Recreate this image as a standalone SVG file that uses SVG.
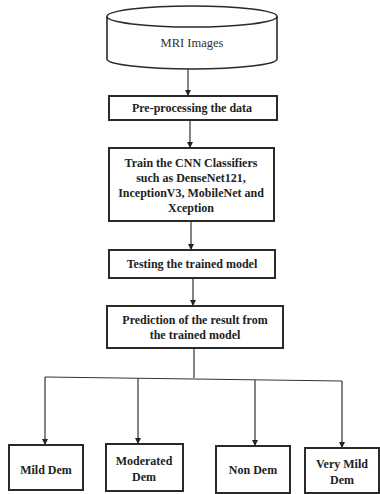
<svg xmlns="http://www.w3.org/2000/svg" width="380" height="494" viewBox="0 0 380 494">
<defs>
<marker id="ah" markerWidth="6" markerHeight="6" refX="5" refY="3" orient="auto" markerUnits="userSpaceOnUse">
<path d="M0,0 L6,3 L0,6 Z" fill="#222"/>
</marker>
<style>
.box{fill:#fff;stroke:#2a2a2a;stroke-width:2}
.cyl{fill:#fff;stroke:#2a2a2a;stroke-width:1.6}
.t{font-family:'Liberation Serif','Times New Roman',serif;font-size:12px;font-weight:bold;fill:#222;text-anchor:middle}
.tn{font-family:'Liberation Serif','Times New Roman',serif;font-size:12.5px;fill:#333;text-anchor:middle}
.c{fill:none;stroke:#333;stroke-width:1.2}
</style>
</defs>
<rect width="380" height="494" fill="#fff"/>
<g id="connectors">
<path class="c" d="M188,69 L188,95" marker-end="url(#ah)"/>
<path class="c" d="M190,120 L190,147" marker-end="url(#ah)"/>
<path class="c" d="M191,221 L191,249" marker-end="url(#ah)"/>
<path class="c" d="M193,278 L193,305" marker-end="url(#ah)"/>
<path class="c" d="M194,348 L194,378"/>
<path class="c" d="M45,377 L342,381"/>
<path class="c" d="M45,377 L45,444" marker-end="url(#ah)"/>
<path class="c" d="M138,378 L138,443" marker-end="url(#ah)"/>
<path class="c" d="M255,380 L255,445" marker-end="url(#ah)"/>
<path class="c" d="M342,381 L342,447" marker-end="url(#ah)"/>
</g>
<g id="mri">
<path class="cyl" d="M107,16.5 L107,59 A85,10 0 0 0 277,59 L277,16.5"/>
<ellipse class="cyl" cx="192" cy="16.5" rx="85" ry="10.5"/>
<text class="tn" x="192" y="47">MRI Images</text>
</g>
<g id="preprocess">
<rect class="box" x="109" y="96" width="168" height="24"/>
<text class="t" x="192" y="112">Pre-processing the data</text>
</g>
<g id="train">
<rect class="box" x="109" y="148" width="165" height="73"/>
<text class="t" x="191" y="167">Train the CNN Classifiers</text>
<text class="t" x="191" y="182">such as DenseNet121,</text>
<text class="t" x="191" y="197">InceptionV3, MobileNet and</text>
<text class="t" x="191" y="212">Xception</text>
</g>
<g id="testing">
<rect class="box" x="109" y="250" width="166" height="28"/>
<text class="t" x="192" y="268">Testing the trained model</text>
</g>
<g id="prediction">
<rect class="box" x="107" y="306" width="176" height="42"/>
<text class="t" x="195" y="324">Prediction of the result from</text>
<text class="t" x="195" y="339">the trained model</text>
</g>
<g id="mild">
<rect class="box" x="9" y="445" width="74" height="45"/>
<text class="t" x="46" y="474">Mild Dem</text>
</g>
<g id="moderated">
<rect class="box" x="106" y="444" width="77" height="47"/>
<text class="t" x="144" y="465">Moderated</text>
<text class="t" x="144" y="481">Dem</text>
</g>
<g id="nondem">
<rect class="box" x="216" y="446" width="74" height="47"/>
<text class="t" x="253" y="474">Non Dem</text>
</g>
<g id="verymild">
<rect class="box" x="305" y="448" width="74" height="45"/>
<text class="t" x="342" y="468">Very Mild</text>
<text class="t" x="342" y="484">Dem</text>
</g>
</svg>
